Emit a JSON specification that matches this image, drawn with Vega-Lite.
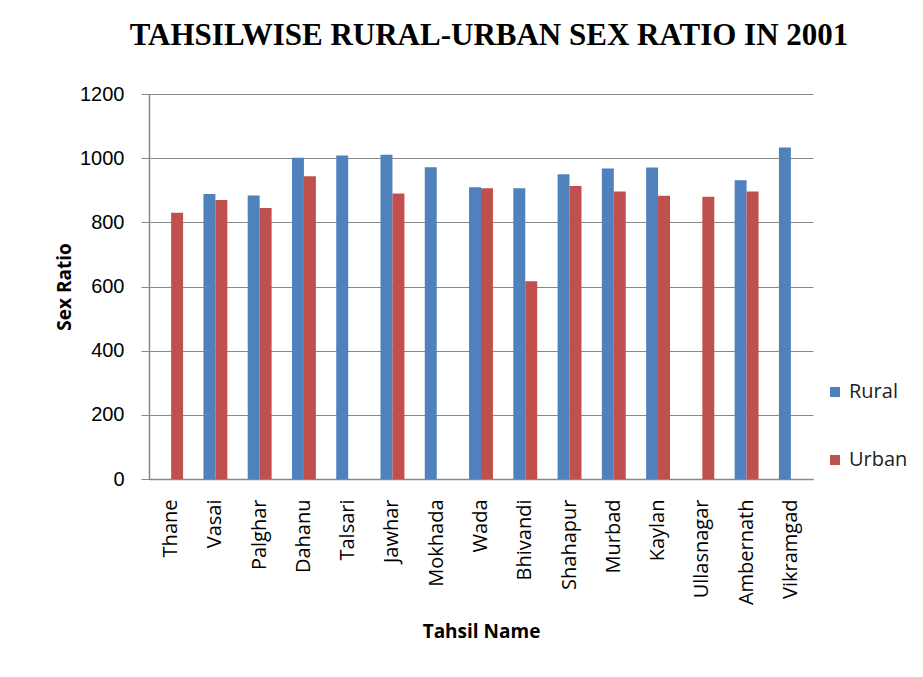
{
  "$schema": "https://vega.github.io/schema/vega-lite/v6.json",
  "width": 664,
  "height": 385,
  "autosize": {"type": "none"},
  "padding": {"left": 149, "top": 94, "right": 110, "bottom": 198},
  "background": "white",
  "title": {
    "text": "TAHSILWISE RURAL-URBAN SEX RATIO IN 2001",
    "font": "Liberation Serif",
    "fontSize": 31,
    "fontWeight": "bold",
    "color": "#000000",
    "anchor": "middle",
    "dx": 8,
    "offset": 32
  },
  "data": {
    "values": [
      {"tahsil": "Thane", "type": "Urban", "ratio": 830},
      {"tahsil": "Vasai", "type": "Rural", "ratio": 888},
      {"tahsil": "Vasai", "type": "Urban", "ratio": 870},
      {"tahsil": "Palghar", "type": "Rural", "ratio": 884},
      {"tahsil": "Palghar", "type": "Urban", "ratio": 845},
      {"tahsil": "Dahanu", "type": "Rural", "ratio": 1001},
      {"tahsil": "Dahanu", "type": "Urban", "ratio": 944},
      {"tahsil": "Talsari", "type": "Rural", "ratio": 1008},
      {"tahsil": "Jawhar", "type": "Rural", "ratio": 1011},
      {"tahsil": "Jawhar", "type": "Urban", "ratio": 890},
      {"tahsil": "Mokhada", "type": "Rural", "ratio": 972},
      {"tahsil": "Wada", "type": "Rural", "ratio": 909},
      {"tahsil": "Wada", "type": "Urban", "ratio": 906},
      {"tahsil": "Bhivandi", "type": "Rural", "ratio": 906},
      {"tahsil": "Bhivandi", "type": "Urban", "ratio": 616},
      {"tahsil": "Shahapur", "type": "Rural", "ratio": 950},
      {"tahsil": "Shahapur", "type": "Urban", "ratio": 913},
      {"tahsil": "Murbad", "type": "Rural", "ratio": 968},
      {"tahsil": "Murbad", "type": "Urban", "ratio": 896},
      {"tahsil": "Kaylan", "type": "Rural", "ratio": 971},
      {"tahsil": "Kaylan", "type": "Urban", "ratio": 883},
      {"tahsil": "Ullasnagar", "type": "Urban", "ratio": 880},
      {"tahsil": "Ambernath", "type": "Rural", "ratio": 931},
      {"tahsil": "Ambernath", "type": "Urban", "ratio": 896},
      {"tahsil": "Vikramgad", "type": "Rural", "ratio": 1033}
    ]
  },
  "mark": {"type": "bar"},
  "encoding": {
    "x": {
      "field": "tahsil",
      "type": "nominal",
      "sort": ["Thane", "Vasai", "Palghar", "Dahanu", "Talsari", "Jawhar", "Mokhada", "Wada", "Bhivandi", "Shahapur", "Murbad", "Kaylan", "Ullasnagar", "Ambernath", "Vikramgad"],
      "scale": {"paddingInner": 0.46, "paddingOuter": 0.23},
      "axis": {
        "title": "Tahsil Name",
        "titleFont": "Open Sans",
        "titleFontSize": 19,
        "titleFontWeight": "bold",
        "titleColor": "#000000",
        "titlePadding": 18,
        "labelAngle": 270,
        "labelFont": "Open Sans",
        "labelFontSize": 20,
        "labelColor": "#000000",
        "labelPadding": 20,
        "ticks": false,
        "domainColor": "#888888",
        "domainWidth": 1.5
      }
    },
    "xOffset": {"field": "type", "type": "nominal", "scale": {"domain": ["Rural", "Urban"]}},
    "y": {
      "field": "ratio",
      "type": "quantitative",
      "scale": {"domain": [0, 1200]},
      "axis": {
        "title": "Sex Ratio",
        "titleFont": "Open Sans",
        "titleFontSize": 19,
        "titleFontWeight": "bold",
        "titleColor": "#000000",
        "titlePadding": 5,
        "values": [0, 200, 400, 600, 800, 1000, 1200],
        "format": "d",
        "labelFont": "Liberation Sans",
        "labelFontSize": 20,
        "labelColor": "#000000",
        "labelPadding": 17,
        "tickSize": 8,
        "tickColor": "#888888",
        "domainColor": "#888888",
        "domainWidth": 1.5,
        "gridColor": "#888888",
        "gridWidth": 1.2
      }
    },
    "color": {
      "field": "type",
      "type": "nominal",
      "scale": {"domain": ["Rural", "Urban"], "range": ["#4F81BD", "#C0504D"]},
      "legend": {
        "title": null,
        "orient": "none",
        "legendX": 676,
        "legendY": 288,
        "symbolType": "square",
        "symbolSize": 100,
        "symbolStrokeWidth": 0,
        "labelFont": "Open Sans",
        "labelFontSize": 20,
        "labelColor": "#222222",
        "labelOffset": 4,
        "rowPadding": 48
      }
    }
  },
  "config": {"view": {"stroke": null}}
}
